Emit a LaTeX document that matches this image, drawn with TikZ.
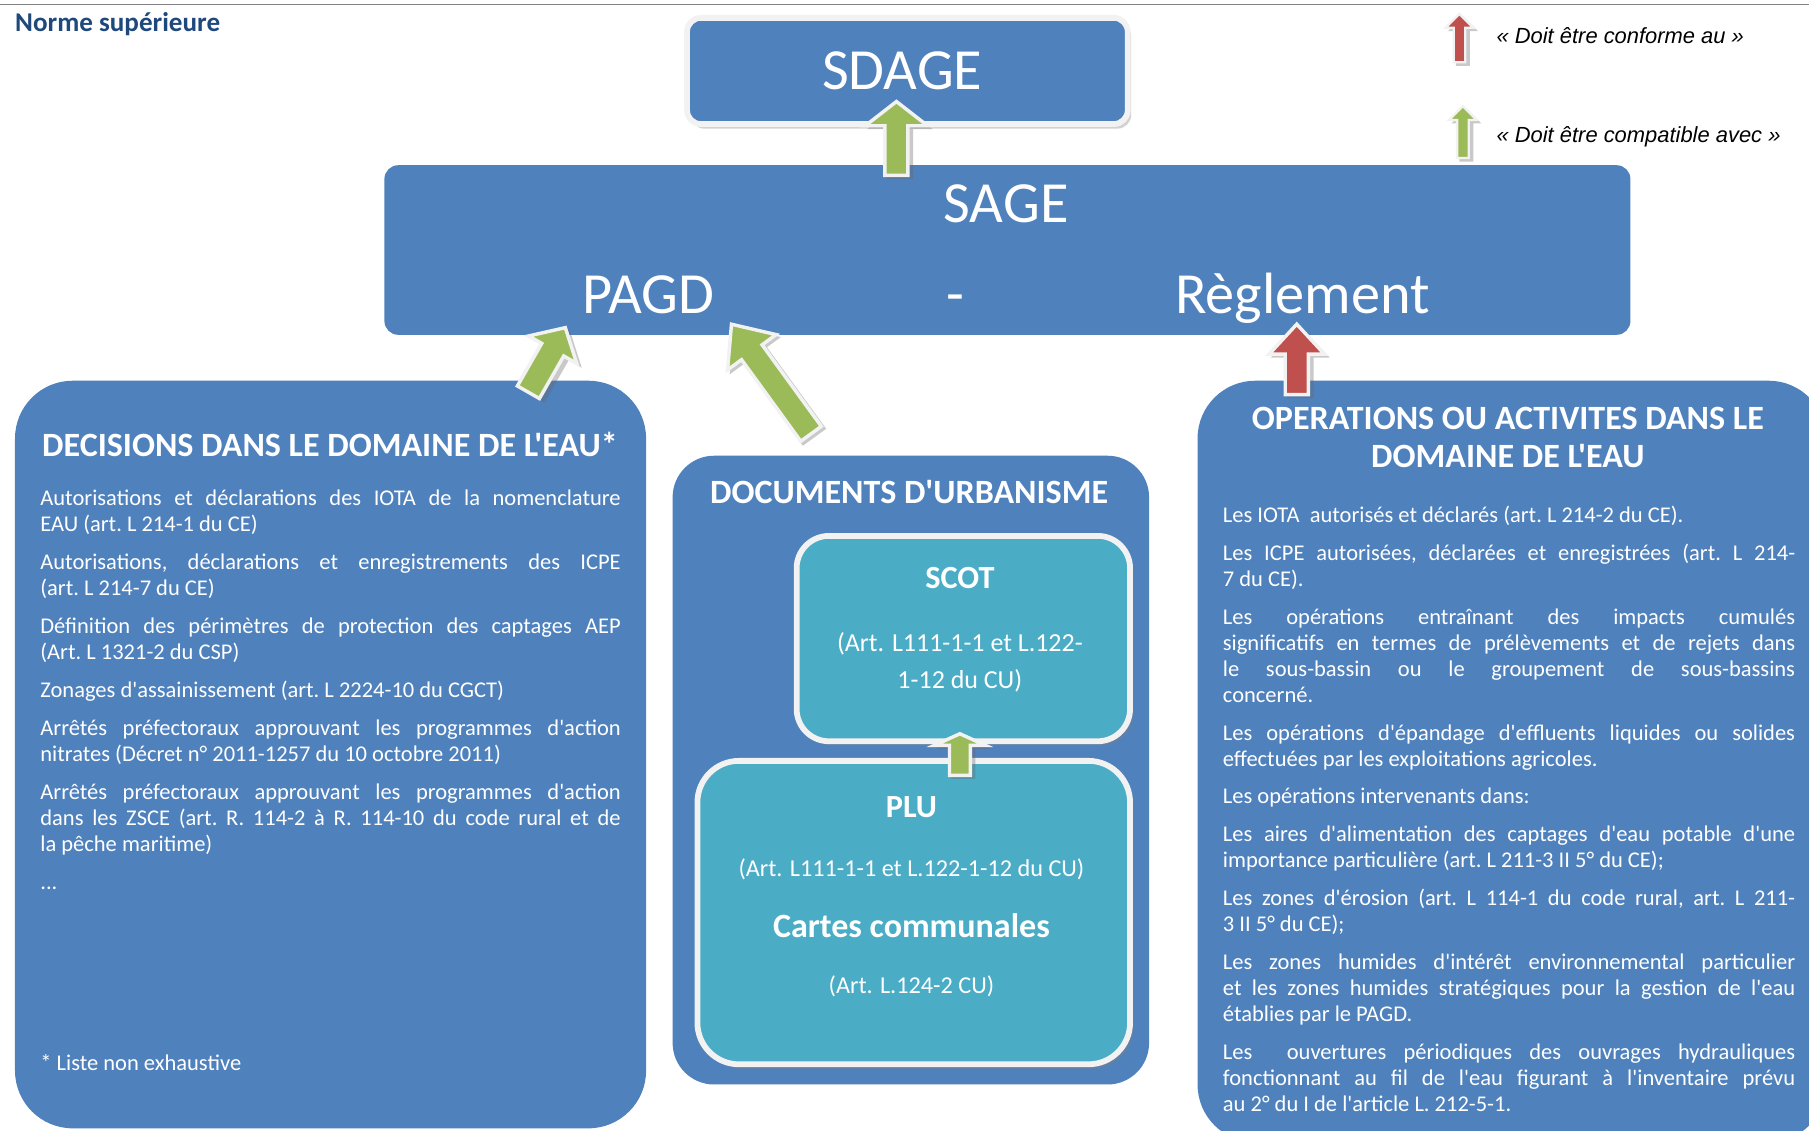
\documentclass[tikz,border=0pt]{standalone}
\usepackage{fontspec}
\setmainfont{Carlito}[Ligatures=TeXOff]
\newfontfamily\legfont{Liberation Sans}
\usetikzlibrary{calc,shadows}
\definecolor{sblue}{HTML}{4F81BD}
\definecolor{steal}{HTML}{4BACC6}
\definecolor{sgreen}{HTML}{9BBB59}
\definecolor{sred}{HTML}{C0504D}
\definecolor{snavy}{HTML}{1F497D}
\definecolor{sedge}{HTML}{F2F2F2}
\definecolor{stopline}{HTML}{808080}

% block arrow: tail, tip, fill, shaft half width, head half width, head length, outline width
\newcommand\blockarrow[7]{%
  \path let \p1=(#1), \p2=(#2) in \pgfextra{%
    \pgfmathsetmacro\tmpang{atan2(\y2-\y1,\x2-\x1)}\global\let\baang\tmpang
    \pgfmathsetmacro\tmplen{veclen(\x2-\x1,\y2-\y1)}\global\let\balen\tmplen
    \pgfmathsetmacro\tmpx{\x1}\global\let\bax\tmpx
    \pgfmathsetmacro\tmpy{\y1}\global\let\bay\tmpy};
  \begin{scope}[shift={(\bax pt+3pt,\bay pt-3pt)}, rotate=\baang, x=1pt, y=1pt]
    \fill[black!60, opacity=0.35] (0,-#4-#7/2) -- ({\balen-#6},-#4-#7/2) -- ({\balen-#6},-#5-#7/2) -- (\balen+#7/2,0) -- ({\balen-#6},#5+#7/2) -- ({\balen-#6},#4+#7/2) -- (0,#4+#7/2) -- cycle;
  \end{scope}
  \begin{scope}[shift={(\bax pt,\bay pt)}, rotate=\baang, x=1pt, y=1pt]
    \filldraw[fill=#3, draw=sedge, line width=#7pt, line join=miter] (0,-#4) -- ({\balen-#6},-#4) -- ({\balen-#6},-#5) -- (\balen,0) -- ({\balen-#6},#5) -- ({\balen-#6},#4) -- (0,#4) -- cycle;
  \end{scope}}

\tikzset{
  bigbox/.style={fill=sblue, draw=none, rounded corners=50pt, anchor=north west, inner sep=0pt, outer sep=0pt},
  topbox/.style={fill=sblue, draw=sedge, line width=5pt, rounded corners=12pt, anchor=north west, inner sep=0pt,
     drop shadow={shadow xshift=3pt, shadow yshift=-4pt, opacity=0.35}},
  sagebox/.style={fill=sblue, draw=none, rounded corners=12pt, anchor=north west, inner sep=0pt},
  subbox/.style={fill=steal, draw=sedge, line width=5pt, rounded corners=32pt, anchor=north west, inner sep=0pt,
     drop shadow={shadow xshift=3pt, shadow yshift=-4pt, opacity=0.35}},
  txt/.style={text=white, inner sep=0pt, outer sep=0pt},
  bodytxt/.style={txt, anchor=base west, align=justify, font=\frenchspacing\fontsize{19.5}{22.6}\selectfont},
  boxtitle/.style={txt, anchor=base, font=\bfseries\fontsize{29.5}{33}\selectfont},
  bigname/.style={txt, anchor=base, font=\fontsize{50.5}{60}\selectfont},
  legtxt/.style={inner sep=0pt, anchor=west, font=\legfont\itshape\fontsize{19}{22}\selectfont},
}

\begin{document}
\begin{tikzpicture}[x=1pt,y=-1pt]
\useasboundingbox (0,0) rectangle (1568,980);
\fill[white] (0,0) rectangle (1568,980);
\draw[stopline, line width=1.5pt] (0,4) -- (1568,4);

\node[inner sep=0pt, anchor=west, text=snavy, font=\bfseries\fontsize{23.5}{27}\selectfont] (norme) at (13,21) {Norme supérieure};

% boxes
\node[topbox, minimum width=382pt, minimum height=92pt] (sdage) at (593,13) {};
\node[sagebox, minimum width=1080pt, minimum height=147pt] (sage) at (333,143) {};
\node[bigbox, minimum width=547pt, minimum height=648pt] (dec) at (13,330) {};
\node[bigbox, rounded corners=36pt, minimum width=413pt, minimum height=545pt] (doc) at (583,395) {};
\node[bigbox, minimum width=545pt, minimum height=660pt] (ope) at (1038,330) {};
\node[subbox, rounded corners=28pt, minimum width=289pt, minimum height=178pt] (scot) at (688,462) {};
\node[subbox, rounded corners=36pt, minimum width=375pt, minimum height=263pt] (plu) at (602,657) {};

% big labels
\node[bigname] (sdagelbl) at (782,78) {SDAGE};
\node[bigname] (sagelbl) at (872,193) {SAGE};
\node[bigname] (pagdlbl) at (562,272) {PAGD};
\node[bigname] (dashlbl) at (828,272) {-};
\node[bigname] (reglbl) at (1129,272) {Règlement};

% titles
\node[boxtitle] (dectitle) at (286,396) {DECISIONS DANS LE DOMAINE DE L'EAU*};
\node[boxtitle] (doctitle) at (788,436) {DOCUMENTS D'URBANISME};
\node[boxtitle] (opetitle1) at (1307,372) {OPERATIONS OU ACTIVITES DANS LE};
\node[boxtitle] (opetitle2) at (1307,405) {DOMAINE DE L'EAU};

% left body
\node[bodytxt, text width=503pt] (dectext) at (35,438) {%
\setlength{\parskip}{10.3pt}\hyphenpenalty=10000\exhyphenpenalty=10000\tolerance=9999%
Autorisations et déclarations des IOTA de la nomenclature\linebreak EAU (art. L 214-1 du CE)\par
Autorisations, déclarations et enregistrements des ICPE\linebreak (art. L 214-7 du CE)\par
Définition des périmètres de protection des captages AEP\linebreak (Art. L 1321-2 du CSP)\par
Zonages d'assainissement (art. L 2224-10 du CGCT)\par
Arrêtés préfectoraux approuvant les programmes d'action\linebreak nitrates (Décret n° 2011-1257 du 10 octobre 2011)\par
Arrêtés préfectoraux approuvant les programmes d'action\linebreak dans les ZSCE (art. R. 114-2 à R. 114-10 du code rural et de\linebreak la pêche maritime)\par
...};
\node[bodytxt] (decnote) at (35,928) {* Liste non exhaustive};

% right body
\node[bodytxt, text width=496pt] (opetext) at (1060,453) {%
\setlength{\parskip}{10.1pt}\hyphenpenalty=10000\exhyphenpenalty=10000\tolerance=9999%
Les IOTA\ \ autorisés et déclarés (art. L 214-2 du CE).\par
Les ICPE autorisées, déclarées et enregistrées (art. L 214-\linebreak 7 du CE).\par
Les opérations entraînant des impacts cumulés\linebreak significatifs en termes de prélèvements et de rejets dans\linebreak le sous-bassin ou le groupement de sous-bassins\linebreak concerné.\par
Les opérations d'épandage d'effluents liquides ou solides\linebreak effectuées par les exploitations agricoles.\par
Les opérations intervenants dans:\par
Les aires d'alimentation des captages d'eau potable d'une\linebreak importance particulière (art. L 211-3 II 5° du CE);\par
Les zones d'érosion (art. L 114-1 du code rural, art. L 211-\linebreak 3 II 5° du CE);\par
Les zones humides d'intérêt environnemental particulier\linebreak et les zones humides stratégiques pour la gestion de l'eau\linebreak établies par le PAGD.\par
Les\ \ ouvertures périodiques des ouvrages hydrauliques\linebreak fonctionnant au fil de l'eau figurant à l'inventaire prévu\linebreak au 2° du I de l'article L. 212-5-1.};

% SCOT / PLU texts
\node[txt, anchor=base, font=\bfseries\fontsize{28}{34}\selectfont] (scotlbl) at (832,510) {SCOT};
\node[txt, anchor=base, font=\fontsize{22.5}{32}\selectfont] (scotref1) at (832,565) {(Art. L111-1-1 et L.122-};
\node[txt, anchor=base, font=\fontsize{22.5}{32}\selectfont] (scotref2) at (832,597) {1-12 du CU)};
\node[txt, anchor=base, font=\bfseries\fontsize{28}{34}\selectfont] (plulbl) at (790,709) {PLU};
\node[txt, anchor=base, font=\fontsize{21}{26}\selectfont] (pluref) at (790,760) {(Art. L111-1-1 et L.122-1-12 du CU)};
\node[txt, anchor=base, font=\bfseries\fontsize{29.5}{34}\selectfont] (cartlbl) at (790,813) {Cartes communales};
\node[txt, anchor=base, font=\fontsize{21}{26}\selectfont] (cartref) at (790,861) {(Art. L.124-2 CU)};

% arrow end points
\coordinate (a1tail) at (777,152);
\coordinate (a1tip) at (777,88);
\coordinate (a2tail) at (458,340);
\coordinate (a2tip) at (490,284);
\coordinate (a3tail) at (703,376);
\coordinate (a3tip) at (634,281);
\coordinate (a4tail) at (1124,342);
\coordinate (a4tip) at (1124,281);
\coordinate (a5tail) at (832,672);
\coordinate (a5tip) at (832,636);

\blockarrow{a1tail}{a1tip}{sgreen}{10}{27}{21}{3}
\blockarrow{a2tail}{a2tip}{sgreen}{11}{24}{22}{3}
\blockarrow{a3tail}{a3tip}{sgreen}{11}{26}{30}{3}
\blockarrow{a4tail}{a4tip}{sred}{10}{24}{26}{3}
\blockarrow{a5tail}{a5tip}{sgreen}{9}{22}{10}{3}

% legend
\coordinate (l1tail) at (1265,54);
\coordinate (l1tip) at (1265,12);
\coordinate (l2tail) at (1268,137);
\coordinate (l2tip) at (1268,92);
\blockarrow{l1tail}{l1tip}{sred}{5}{12}{12}{2}
\blockarrow{l2tail}{l2tip}{sgreen}{5}{12}{12}{2}
\node[legtxt] (leg1) at (1297,31) {« Doit être conforme au »};
\node[legtxt] (leg2) at (1297,119) {« Doit être compatible avec »};
\end{tikzpicture}
\end{document}
